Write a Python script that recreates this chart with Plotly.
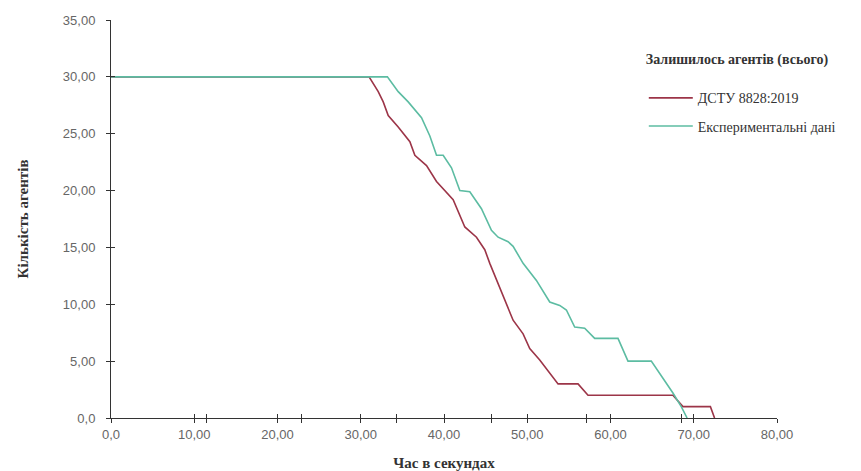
import plotly.graph_objects as go

# ДСТУ 8828:2019 series
dstu_t = [0, 31.0, 32.1, 32.7, 33.3, 34.5, 35.9, 36.5, 37.9, 39.1, 41.1, 41.9, 42.5, 43.9, 44.9,
          45.5, 46.7, 47.5, 48.3, 49.5, 50.3, 51.5, 53.7, 56.1, 57.3, 67.5, 68.7, 72.0, 72.5]
dstu_n = [30, 30, 28.7, 27.8, 26.6, 25.6, 24.3, 23.1, 22.2, 20.8, 19.2, 17.9, 16.8, 15.9, 14.8,
          13.6, 11.5, 10.1, 8.6, 7.4, 6.1, 5.1, 3.0, 3.0, 2.0, 2.0, 1.0, 1.0, 0]

# Experimental data series
exp_t = [0, 33.2, 34.5, 35.7, 37.3, 38.3, 39.1, 39.9, 40.9, 41.9, 43.1, 44.5, 45.7, 46.5, 47.7,
         48.3, 49.5, 51.1, 52.7, 53.9, 54.7, 55.7, 56.9, 58.1, 60.9, 62.1, 64.9, 67.5, 68.5, 69.2]
exp_n = [30, 30, 28.7, 27.8, 26.4, 24.8, 23.1, 23.1, 22.0, 20.0, 19.9, 18.4, 16.5, 15.9, 15.5,
         15.1, 13.6, 12.1, 10.2, 9.9, 9.5, 8.0, 7.9, 7.0, 7.0, 5.0, 5.0, 2.2, 1.0, 0]

x_major = [0, 10, 20, 30, 40, 50, 60, 70, 80]
x_major_labels = ["0,0", "10,00", "20,00", "30,00", "40,00", "50,00", "60,00", "70,00", "80,00"]
x_extra_ticks = [11.43, 22.86, 34.29, 45.71, 57.14, 68.57]
y_ticks = [0, 5, 10, 15, 20, 25, 30, 35]
y_tick_labels = ["0,0", "5,00", "10,00", "15,00", "20,00", "25,00", "30,00", "35,00"]

RED = "#9c3548"
GREEN = "#5cbca2"

x_all = x_major + x_extra_ticks
x_all_text = x_major_labels + [""] * len(x_extra_ticks)

fig = go.Figure()
fig.add_trace(go.Scatter(x=dstu_t, y=dstu_n, mode="lines", name="ДСТУ 8828:2019",
                         line=dict(color=RED, width=1.6), legendgroup="a"))
fig.add_trace(go.Scatter(x=exp_t, y=exp_n, mode="lines", name="Експериментальні дані",
                         line=dict(color=GREEN, width=1.6), legendgroup="b"))

tickfont = dict(family="Liberation Sans, Arial, sans-serif", size=13, color="#666666")
titlefont = dict(family="Liberation Serif, Times New Roman, serif", size=15, color="#333333")
legfont = dict(family="Liberation Serif, Times New Roman, serif", size=14, color="#333333")

fig.update_layout(
    width=853, height=463,
    margin=dict(l=103, r=84, t=12, b=53),
    plot_bgcolor="white", paper_bgcolor="white",
    showlegend=True,
    legend=dict(
        x=0.80, y=0.935, xanchor="left", yanchor="top",
        title=dict(text="<b>Залишилось агентів (всього)</b><br> ", font=legfont),
        font=legfont,
        itemwidth=44,
        tracegroupgap=7,
        bgcolor="rgba(255,255,255,0)",
    ),
    xaxis=dict(
        range=[0, 80], showgrid=False, zeroline=False, automargin=False,
        showline=True, linecolor="#333333", linewidth=1,
        tickmode="array", tickvals=x_all, ticktext=x_all_text,
        ticks="outside", ticklen=4, tickcolor="#333333", tickfont=tickfont,
        title=dict(text="<b>Час в секундах</b>", font=titlefont, standoff=18),
    ),
    xaxis2=dict(
        range=[0, 80], overlaying="x", anchor="y", side="bottom",
        showgrid=False, zeroline=False, showline=False, automargin=False,
        tickmode="array", tickvals=x_all, showticklabels=False,
        ticks="inside", ticklen=4, tickcolor="#333333",
    ),
    yaxis=dict(
        range=[0, 35], showgrid=False, zeroline=False, automargin=False,
        showline=True, linecolor="#333333", linewidth=1,
        tickmode="array", tickvals=y_ticks, ticktext=y_tick_labels,
        ticks="outside", ticklen=4, tickcolor="#333333", tickfont=tickfont,
        ticklabelstandoff=8,
        title=dict(text="<b>Кількість агентів</b>", font=titlefont, standoff=30),
    ),
    yaxis2=dict(
        range=[0, 35], overlaying="y", anchor="x", side="left",
        showgrid=False, zeroline=False, showline=False, automargin=False,
        tickmode="array", tickvals=y_ticks, showticklabels=False,
        ticks="inside", ticklen=4, tickcolor="#333333",
    ),
)
# invisible helper trace to activate the overlay axes
fig.add_trace(go.Scatter(x=[0], y=[0], xaxis="x2", yaxis="y2", mode="markers",
                         marker=dict(opacity=0), showlegend=False, hoverinfo="skip"))

fig.write_html("out.html")
